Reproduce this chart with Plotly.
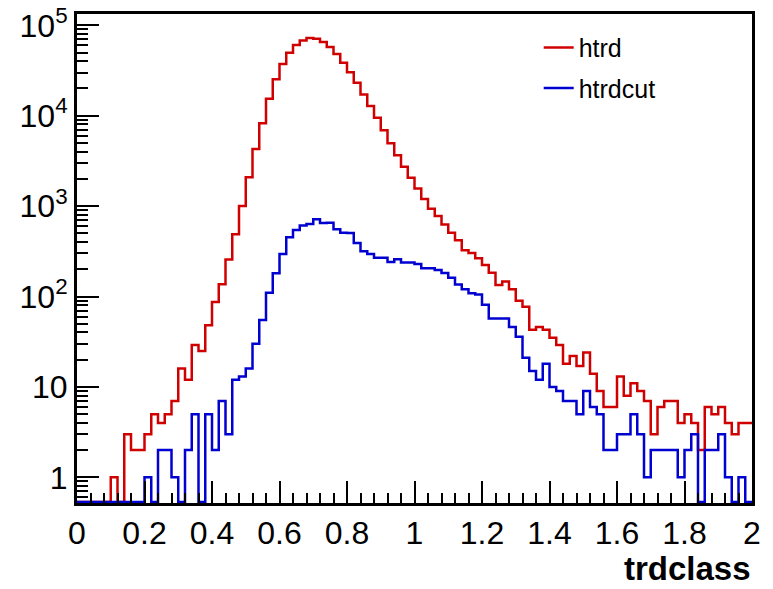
import numpy as np
import plotly.graph_objects as go

# ---------------- data ----------------
x_min, x_max, n_bins = 0.0, 2.0, 100

htrd = [
    0, 0, 0, 0, 0, 1, 0, 3, 2, 2,
    3, 5, 4, 5, 7, 16, 12, 29, 25, 48,
    87, 137, 257, 488, 1000, 2080, 4290, 8240, 15400, 25300,
    37300, 49800, 60500, 68000, 72400, 71000, 65400, 57500, 48100, 38500,
    30200, 23200, 17200, 12800, 9500, 6900, 4950, 3660, 2730, 2060,
    1570, 1200, 935, 775, 625, 508, 418, 325, 303, 265,
    223, 183, 134, 147, 120, 90, 77, 43, 46, 43,
    35, 29, 18, 22, 17, 24, 14, 9, 6, 6,
    13, 8, 11, 9, 7, 3, 6, 7, 7, 4,
    5, 4, 2, 6, 5, 6, 4, 3, 4, 4,
]

htrdcut = [
    0, 0, 0, 0, 0, 0, 0, 0, 0, 0,
    1, 0, 2, 2, 1, 0, 2, 5, 0, 5,
    2, 7, 3, 12, 13, 16, 30, 55, 110, 181,
    295, 452, 544, 610, 634, 715, 650, 655, 553, 508,
    504, 390, 317, 295, 269, 269, 241, 258, 238, 238,
    229, 206, 206, 196, 182, 161, 136, 120, 109, 105,
    81, 57, 57, 57, 46, 36, 21, 15, 12, 18,
    10, 9, 7, 7, 5, 9, 6, 5, 2, 2,
    3, 3, 5, 3, 1, 2, 2, 2, 2, 1,
    2, 3, 0, 2, 2, 3, 1, 0, 1, 0,
]

series_names = ["htrd", "htrdcut"]
series_colors = ["#d00000", "#0000d0"]

x_tick_vals = [0, 0.2, 0.4, 0.6, 0.8, 1.0, 1.2, 1.4, 1.6, 1.8, 2.0]
x_tick_text = ["0", "0.2", "0.4", "0.6", "0.8", "1", "1.2", "1.4", "1.6", "1.8", "2"]
y_tick_vals = [1, 10, 100, 1000, 10000, 100000]
y_tick_text = ["1", "10", "10<sup>2</sup>", "10<sup>3</sup>", "10<sup>4</sup>", "10<sup>5</sup>"]
x_title = "trdclass"

# ---------------- helpers ----------------
Y_LOG_RANGE = [-0.284, 5.125]
floor_val = 10 ** (Y_LOG_RANGE[0] + 0.012)   # empty bins drawn on the frame, ROOT style

edges = np.linspace(x_min, x_max, n_bins + 1)


def step_xy(vals):
    yv = [v if v > 0 else floor_val for v in vals]
    return list(edges), yv + [yv[-1]]


minor_y = [m * 10 ** d for d in range(-1, 6) for m in range(2, 10)]
minor_y = [v for v in minor_y if 10 ** Y_LOG_RANGE[0] < v < 10 ** Y_LOG_RANGE[1]]

FONT = "Liberation Sans, Arial, Helvetica, sans-serif"

fig = go.Figure()
for vals, name, col in zip([htrd, htrdcut], series_names, series_colors):
    xs, ys = step_xy(vals)
    fig.add_trace(go.Scatter(
        x=xs, y=ys, mode="lines", name=name, legendgroup=name,
        line=dict(color=col, width=2.5, shape="hv"),
    ))

fig.update_layout(
    width=773, height=589,
    margin=dict(l=77, r=21, t=14, b=86, autoexpand=False),
    paper_bgcolor="white", plot_bgcolor="white",
    font=dict(family=FONT, color="black"),
    showlegend=True,
    legend=dict(
        x=0.684, y=0.978, xanchor="left", yanchor="top",
        font=dict(size=25, family=FONT, color="black"),
        bgcolor="rgba(0,0,0,0)", borderwidth=0,
        tracegroupgap=5,
    ),
    xaxis=dict(
        range=[x_min, x_max], tickmode="array", automargin=False,
        tickvals=x_tick_vals, ticktext=x_tick_text,
        ticks="inside", ticklen=22, tickwidth=2, tickcolor="black",
        showline=True, linecolor="black", linewidth=3, mirror=True,
        showgrid=False, zeroline=False,
        tickfont=dict(size=32, family=FONT, color="black"),
        minor=dict(ticks="inside", ticklen=10, tickwidth=2, tickcolor="black",
                   dtick=0.04, tick0=0, showgrid=False),
    ),
    yaxis=dict(
        type="log", range=Y_LOG_RANGE, tickmode="array", automargin=False,
        tickvals=y_tick_vals, ticktext=y_tick_text,
        ticks="inside", ticklen=22, tickwidth=2, tickcolor="black",
        showline=True, linecolor="black", linewidth=3, mirror=True,
        showgrid=False, zeroline=False,
        tickfont=dict(size=32, family=FONT, color="black"),
        minor=dict(ticks="inside", ticklen=11, tickwidth=2, tickcolor="black",
                   tickmode="array", tickvals=minor_y, showgrid=False),
    ),
    annotations=[dict(
        text="<b>" + x_title + "</b>", xref="paper", yref="paper",
        x=1.0, y=-0.094, xanchor="right", yanchor="top", showarrow=False,
        font=dict(size=33, family=FONT, color="black"), borderpad=0,
    )],
)

fig.write_html(
    "out.html",
    config={"displayModeBar": False},
    post_script="document.body.style.margin='0px';document.body.style.overflow='hidden';",
)
